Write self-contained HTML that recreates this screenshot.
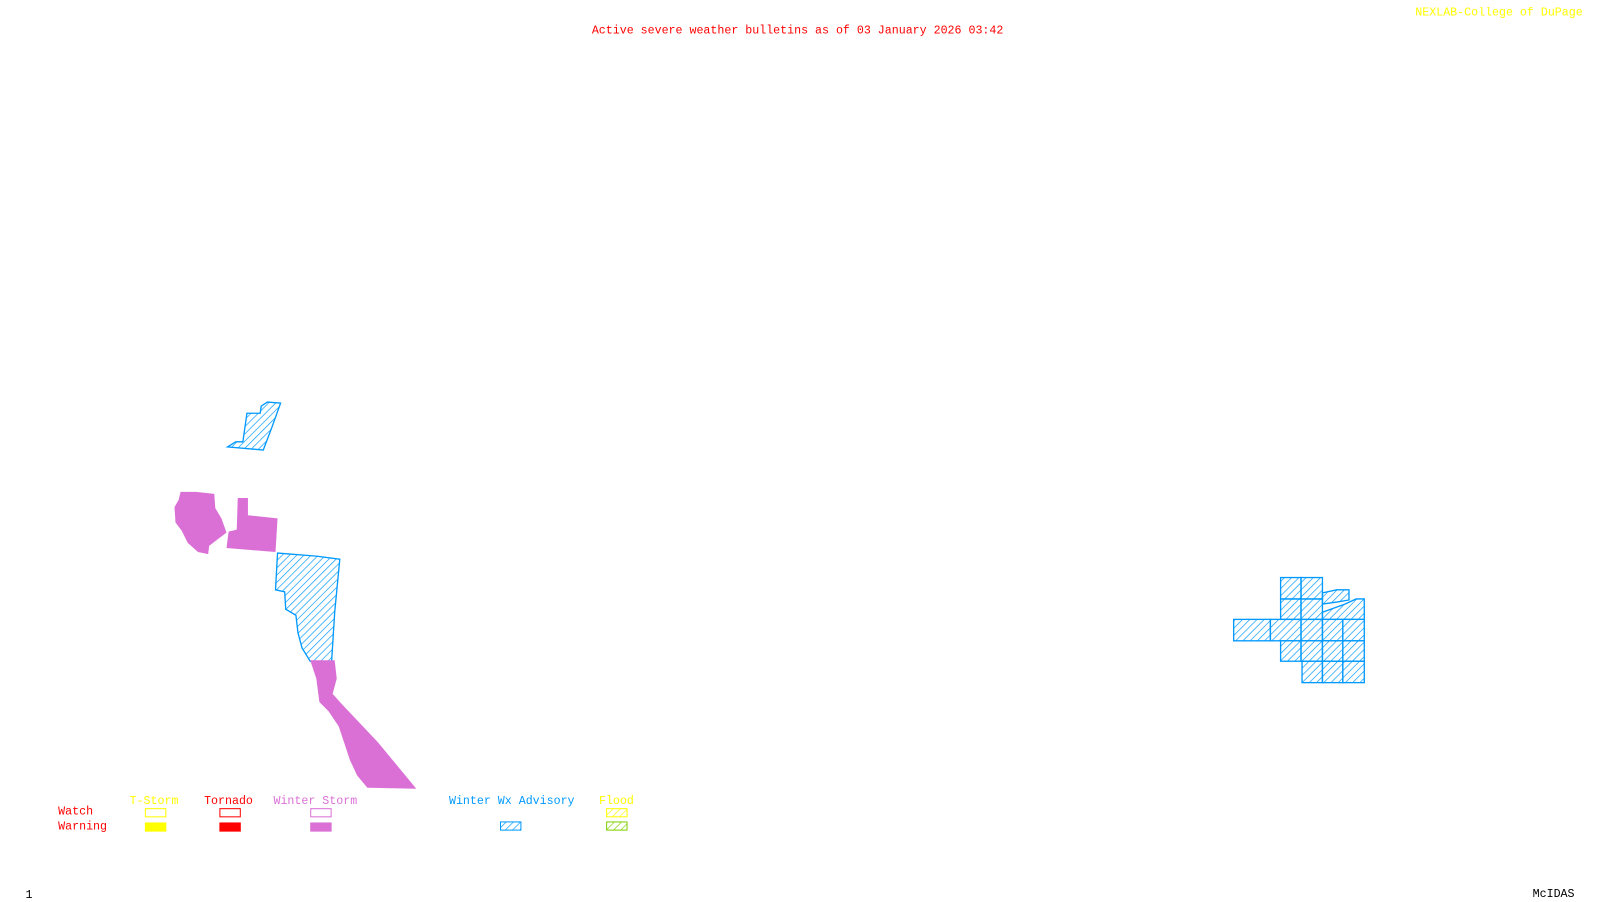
<!DOCTYPE html>
<html><head><meta charset="utf-8"><style>
body{margin:0;background:#fff;width:1600px;height:900px;overflow:hidden;position:relative;font-family:"Liberation Mono",monospace;font-size:11.4px}
#w{position:absolute;left:0;top:0;width:1568px;height:882px;transform:scale(1.0204);transform-origin:0 0}
.t{position:absolute;white-space:nowrap;line-height:12px;margin-top:2px}
</style></head><body><div id="w">
<svg width="1568" height="882" style="position:absolute;left:0;top:0">
<defs>
<pattern id="h" width="5" height="5" patternUnits="userSpaceOnUse" patternTransform="rotate(45)">
<line x1="0" y1="0" x2="0" y2="5" stroke="#0099ff" stroke-width="1.3"/></pattern>
<pattern id="hy" width="5" height="5" patternUnits="userSpaceOnUse" patternTransform="rotate(45)">
<line x1="0" y1="0" x2="0" y2="5" stroke="#ffff00" stroke-width="1.3"/></pattern>
<pattern id="hg" width="5" height="5" patternUnits="userSpaceOnUse" patternTransform="rotate(45)">
<line x1="0" y1="0" x2="0" y2="5" stroke="#7fd000" stroke-width="1.3"/></pattern>
</defs>
<g fill="url(#h)" stroke="#0099ff" stroke-width="1.3">
<polygon points="223,438 231,433 238,433 242,405 255,405 256,398 262,394 275,395 266,420 258,441"/>
<polygon points="272,542 310,545 333,548 328,600 325,648 304,648 296,635 292,620 290,603 280,597 279,580 270,578 271,560"/>
</g>
<g fill="#da70d6">
<polygon points="177,482 192,482 210,484 211,498 217,508 222,522 214,528 205,535 204,543 194,541 184,532 178,520 172,512 171,497 175,490"/>
<polygon points="233,488 243,488 243,505 272,508 270,541 222,537 224,521 232,519"/>
<polygon points="304,647 328,647 330,665 326,680 335,690 370,727 408,773 360,772 350,760 343,745 332,712 322,697 313,688 310,665"/>
</g>
<g fill="url(#h)" stroke="#0099ff" stroke-width="1.3">
<rect x="1255" y="566" width="20" height="21"/><rect x="1275" y="566" width="21" height="21"/>
<polygon points="1296,581 1310,578 1322,578 1322,588 1310,590 1296,592"/>
<rect x="1255" y="587" width="20" height="20"/><rect x="1275" y="587" width="21" height="20"/>
<polygon points="1296,600 1318,592 1329,587 1337,587 1337,607 1296,607"/>
<rect x="1209" y="607" width="36" height="21"/><rect x="1245" y="607" width="30" height="21"/><rect x="1275" y="607" width="21" height="21"/>
<rect x="1296" y="607" width="20" height="21"/><rect x="1316" y="607" width="21" height="21"/>
<rect x="1255" y="628" width="20" height="20"/><rect x="1275" y="628" width="21" height="20"/><rect x="1296" y="628" width="20" height="20"/><rect x="1316" y="628" width="21" height="20"/>
<rect x="1276" y="648" width="20" height="21"/><rect x="1296" y="648" width="20" height="21"/><rect x="1316" y="648" width="21" height="21"/>
</g>
<rect x="142.5" y="792.5" width="20" height="8" fill="none" stroke="#ffff00"/>
<rect x="142" y="806" width="21" height="9" fill="#ffff00"/>
<rect x="215.5" y="792.5" width="20" height="8" fill="none" stroke="#ff0000"/>
<rect x="215" y="806" width="21" height="9" fill="#ff0000"/>
<rect x="304.5" y="792.5" width="20" height="8" fill="none" stroke="#da70d6"/>
<rect x="304" y="806" width="21" height="9" fill="#da70d6"/>
<rect x="490.5" y="805.5" width="20" height="8" fill="url(#h)" stroke="#0099ff"/>
<rect x="594.5" y="792.5" width="20" height="8" fill="url(#hy)" stroke="#ffff00"/>
<rect x="594.5" y="805.5" width="20" height="8" fill="url(#hg)" stroke="#7fd000"/>
</svg>
<div class="t" style="left:580px;top:23px;color:#ff0000">Active severe weather bulletins as of 03 January 2026 03:42</div>
<div class="t" style="left:1387px;top:5px;color:#ffff00">NEXLAB-College of DuPage</div>
<div class="t" style="left:127px;top:778px;color:#ffff00">T-Storm</div>
<div class="t" style="left:200px;top:778px;color:#ff0000">Tornado</div>
<div class="t" style="left:268px;top:778px;color:#da70d6">Winter Storm</div>
<div class="t" style="left:440px;top:778px;color:#0099ff">Winter Wx Advisory</div>
<div class="t" style="left:587px;top:778px;color:#ffff00">Flood</div>
<div class="t" style="left:57px;top:788px;color:#ff0000">Watch</div>
<div class="t" style="left:57px;top:803px;color:#ff0000">Warning</div>
<div class="t" style="left:25px;top:870px;color:#000">1</div>
<div class="t" style="left:1502px;top:869px;color:#000">McIDAS</div>
</div></body></html>
